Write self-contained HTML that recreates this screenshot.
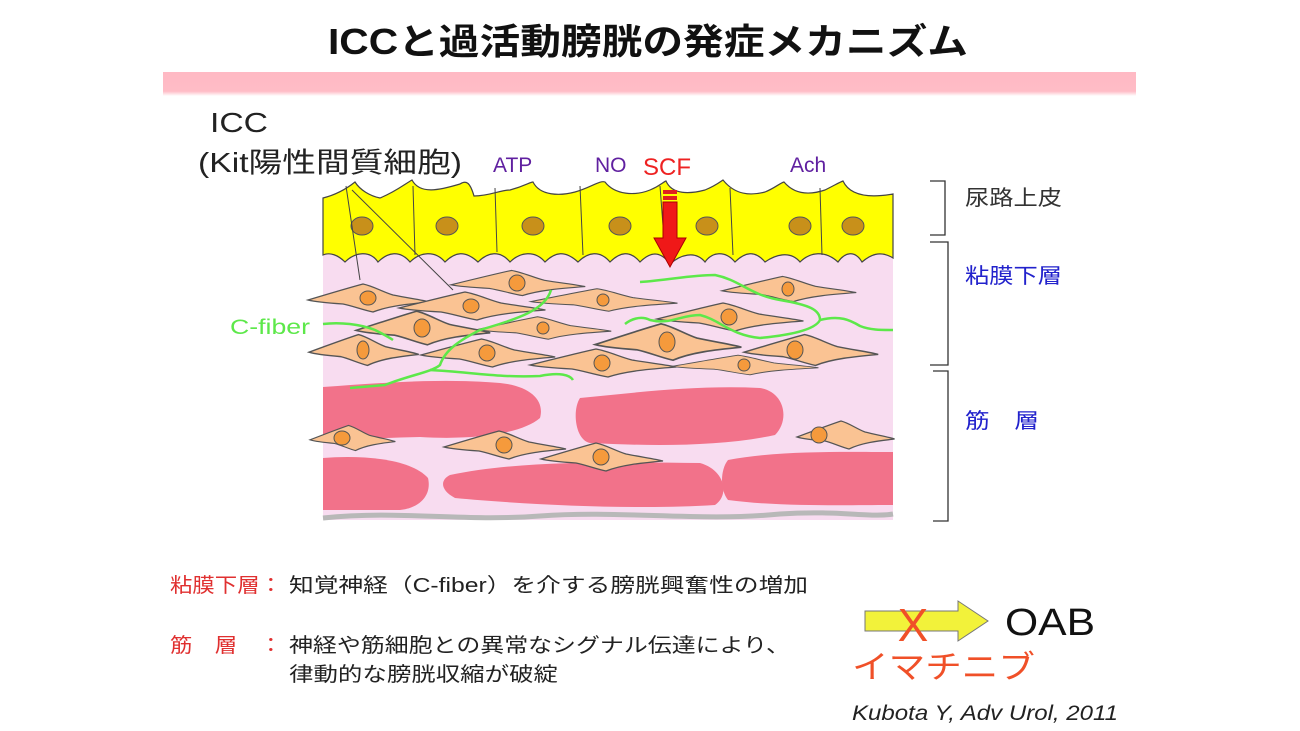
<!DOCTYPE html>
<html><head><meta charset="utf-8"><style>
body{margin:0;width:1300px;height:726px;background:#fff;overflow:hidden}
svg text{font-family:"Liberation Sans","Noto Sans CJK JP",sans-serif}
</style></head><body>
<svg width="1300" height="726" viewBox="0 0 1300 726">
<defs>
<linearGradient id="bar" x1="0" y1="0" x2="0" y2="1"><stop offset="0" stop-color="#ffb9c4"/><stop offset="0.8" stop-color="#ffbcc6"/><stop offset="1" stop-color="#fff"/></linearGradient>
<g id="cell"><path d="M-60,2 C-40,-4 -20,-10 -5,-14 C5,-12 15,-6 25,-3 C40,0 55,2 62,4 C40,6 20,8 5,14 C-5,12 -15,8 -25,6 C-40,5 -52,4 -60,2Z" fill="#fac393" stroke="#555" stroke-width="1.3"/></g>
</defs>
<text x="328" y="54" font-size="36" font-weight="bold" fill="#111" textLength="640" lengthAdjust="spacingAndGlyphs">ICCと過活動膀胱の発症メカニズム</text>
<rect x="163" y="72" width="973" height="24" fill="url(#bar)"/>
<text x="210" y="132" font-size="28" fill="#222" textLength="58" lengthAdjust="spacingAndGlyphs">ICC</text>
<text x="198" y="172" font-size="28" fill="#222" textLength="264" lengthAdjust="spacingAndGlyphs">(Kit陽性間質細胞)</text>
<text x="493" y="172" font-size="21" fill="#6020a0">ATP</text>
<text x="595" y="172" font-size="21" fill="#6020a0">NO</text>
<text x="643" y="175" font-size="24" fill="#ee2222">SCF</text>
<text x="790" y="172" font-size="21" fill="#6020a0">Ach</text>
<!-- tissue -->
<rect x="323" y="235" width="570" height="285" fill="#f8dcf0"/>
<!-- muscle -->
<g fill="#f2728a">
<path d="M323,387 C380,383 440,378 500,383 C530,386 545,400 540,418 C520,435 470,440 420,437 C380,438 340,440 323,438Z"/>
<path d="M580,398 C640,392 700,385 760,388 C785,392 790,420 775,435 C720,447 650,446 590,443 C575,440 572,410 580,398Z"/>
<path d="M323,458 C360,455 410,458 428,478 C432,495 420,508 400,510 L323,510Z"/>
<path d="M450,475 C520,460 620,462 700,463 C725,470 730,495 715,505 C640,510 530,505 455,498 C440,490 440,480 450,475Z"/>
<path d="M728,460 C780,450 850,452 893,452 L893,505 C850,505 780,507 728,500 C720,490 720,470 728,460Z"/>
</g>
<path d="M323,518 C400,510 460,522 540,516 C620,510 700,522 780,514 C840,510 870,518 893,514" stroke="#b8b8b8" stroke-width="5" fill="none"/>
<!-- epithelium -->
<path d="M323,198 C335,195 345,190 355,182 C360,190 370,196 380,198 C395,192 405,184 412,180 C420,195 440,190 460,184 C466,180 470,182 474,196 C490,196 500,190 510,190 C525,186 530,182 533,182 C540,196 560,196 575,192 C590,188 600,180 605,182 C615,195 635,196 650,190 C660,186 663,182 666,181 C672,195 690,194 705,190 C715,186 720,182 723,180 C735,195 750,196 765,192 C775,188 780,183 784,182 C795,195 810,195 825,190 C835,185 840,182 843,181 C850,196 870,198 893,194 L893,258 C880,250 870,255 862,262 C855,250 845,252 838,262 C825,250 810,252 800,262 C790,250 775,255 765,262 C755,250 745,252 735,262 C725,250 712,252 705,262 C695,250 680,255 670,264 C660,250 650,252 640,262 C630,250 620,252 610,262 C600,250 588,252 578,262 C565,250 555,252 545,262 C535,250 520,252 510,262 C500,250 488,252 478,262 C465,250 455,252 445,262 C435,250 420,252 410,262 C400,250 388,252 378,262 C370,250 355,252 345,262 C338,255 330,252 323,255Z" fill="#ffff00" stroke="#444" stroke-width="1.2"/>
<g stroke="#444" stroke-width="1" fill="none">
<path d="M413,186 L415,255"/><path d="M495,188 L497,252"/><path d="M580,186 L583,255"/><path d="M660,186 L665,252"/><path d="M730,188 L733,255"/><path d="M820,188 L822,255"/>
</g>
<g fill="#c8901a" stroke="#555" stroke-width="1">
<ellipse cx="362" cy="226" rx="11" ry="9"/><ellipse cx="447" cy="226" rx="11" ry="9"/><ellipse cx="533" cy="226" rx="11" ry="9"/><ellipse cx="620" cy="226" rx="11" ry="9"/><ellipse cx="707" cy="226" rx="11" ry="9"/><ellipse cx="800" cy="226" rx="11" ry="9"/><ellipse cx="853" cy="226" rx="11" ry="9" /></g>
<!-- cells -->
<g>
<use href="#cell" transform="translate(368,298)"/>
<use href="#cell" transform="translate(517,283) scale(1.1,0.9)"/>
<use href="#cell" transform="translate(471,306) scale(1.2,1)"/>
<use href="#cell" transform="translate(603,300) scale(1.2,0.8)"/>
<use href="#cell" transform="translate(788,289) scale(1.1,0.9)"/>
<use href="#cell" transform="translate(422,328) scale(1.1,1.2)"/>
<use href="#cell" transform="translate(543,328) scale(1.1,0.8)"/>
<use href="#cell" transform="translate(729,317) scale(1.2,1)"/>
<use href="#cell" transform="translate(363,350) scale(0.9,1.1)"/>
<use href="#cell" transform="translate(487,353) scale(1.1,1)"/>
<use href="#cell" transform="translate(667,342) scale(1.2,1.3)"/>
<use href="#cell" transform="translate(810,350) scale(1.1,1.1)"/>
<use href="#cell" transform="translate(602,363) scale(1.2,1)"/>
<use href="#cell" transform="translate(744,365) scale(1.2,0.7)"/>
<use href="#cell" transform="translate(352,438) scale(0.7,0.9)"/>
<use href="#cell" transform="translate(504,445) scale(1,1)"/>
<use href="#cell" transform="translate(601,457) scale(1,1)"/>
<use href="#cell" transform="translate(845,435) scale(0.8,1)"/>
</g>
<g fill="#f59a3c" stroke="#555" stroke-width="1">
<ellipse cx="368" cy="298" rx="8" ry="7"/><ellipse cx="517" cy="283" rx="8" ry="8"/><ellipse cx="471" cy="306" rx="8" ry="7"/><ellipse cx="603" cy="300" rx="6" ry="6"/><ellipse cx="788" cy="289" rx="6" ry="7"/><ellipse cx="422" cy="328" rx="8" ry="9"/><ellipse cx="543" cy="328" rx="6" ry="6"/><ellipse cx="729" cy="317" rx="8" ry="8"/><ellipse cx="363" cy="350" rx="6" ry="9"/><ellipse cx="487" cy="353" rx="8" ry="8"/><ellipse cx="667" cy="342" rx="8" ry="10"/><ellipse cx="795" cy="350" rx="8" ry="9"/><ellipse cx="602" cy="363" rx="8" ry="8"/><ellipse cx="744" cy="365" rx="6" ry="6"/><ellipse cx="342" cy="438" rx="8" ry="7"/><ellipse cx="504" cy="445" rx="8" ry="8"/><ellipse cx="601" cy="457" rx="8" ry="8"/><ellipse cx="819" cy="435" rx="8" ry="8"/>
</g>
<!-- green fibers -->
<g stroke="#5de84a" stroke-width="2.5" fill="none">
<path d="M323,324 C340,322 360,324 375,330 C385,335 390,338 393,340"/>
<path d="M551,290 C545,310 520,318 480,330 C460,340 445,350 440,365 C432,372 410,375 385,385 L350,388"/>
<path d="M430,370 C470,372 500,378 540,376 C560,372 570,375 573,380"/>
<path d="M640,282 C670,280 690,275 715,275 C740,280 750,295 780,300 C810,305 820,310 820,320 C815,330 790,335 760,338 C730,335 720,320 700,315 C680,315 670,325 650,320 C640,315 630,320 625,324"/>
<path d="M820,320 C840,315 850,320 860,326 C870,330 880,330 893,330"/>
</g>
<!-- ICC pointer lines -->
<g stroke="#444" stroke-width="1"><line x1="346" y1="186" x2="360" y2="280"/><line x1="352" y1="190" x2="453" y2="290"/></g>
<!-- SCF arrow -->
<rect x="663" y="190" width="14" height="4" fill="#e02020"/><rect x="663" y="196" width="14" height="4" fill="#e02020"/>
<path d="M663,202 L677,202 L677,238 L686,238 L670,267 L654,238 L663,238Z" fill="#f01818" stroke="#a00" stroke-width="1"/>
<!-- brackets -->
<g stroke="#333" stroke-width="1.3" fill="none">
<path d="M930,181 L945,181 L945,235 L930,235"/>
<path d="M930,242 L948,242 L948,365 L930,365"/>
<path d="M933,371 L948,371 L948,521 L933,521"/>
</g>
<text x="965" y="205" font-size="21" fill="#333" textLength="97" lengthAdjust="spacingAndGlyphs">尿路上皮</text>
<text x="965" y="283" font-size="21" fill="#2222cc" textLength="97" lengthAdjust="spacingAndGlyphs">粘膜下層</text>
<text x="965" y="428" font-size="21" fill="#2222cc" textLength="74" lengthAdjust="spacingAndGlyphs">筋　層</text>
<text x="230" y="334" font-size="21" fill="#5de84a" textLength="80" lengthAdjust="spacingAndGlyphs">C-fiber</text>
<!-- bottom text -->
<text x="170" y="592" font-size="20" fill="#e03030" textLength="112" lengthAdjust="spacingAndGlyphs">粘膜下層：</text>
<text x="289" y="592" font-size="20" fill="#222" textLength="519" lengthAdjust="spacingAndGlyphs">知覚神経（C-fiber）を介する膀胱興奮性の増加</text>
<text x="170" y="652" font-size="20" fill="#e03030" textLength="112" lengthAdjust="spacingAndGlyphs">筋　層　：</text>
<text x="289" y="652" font-size="20" fill="#222" textLength="501" lengthAdjust="spacingAndGlyphs">神経や筋細胞との異常なシグナル伝達により、</text>
<text x="289" y="681" font-size="20" fill="#222" textLength="269" lengthAdjust="spacingAndGlyphs">律動的な膀胱収縮が破綻</text>
<!-- OAB -->
<path d="M865,611 L958,611 L958,601 L988,621 L958,641 L958,631 L865,631Z" fill="#f2f23a" stroke="#777" stroke-width="1"/>
<text x="913" y="641" text-anchor="middle" font-size="46" fill="#f05028">X</text>
<text x="1005" y="635" font-size="38" fill="#111" textLength="90" lengthAdjust="spacingAndGlyphs">OAB</text>
<text x="852" y="678" font-size="32" fill="#f05028" textLength="183" lengthAdjust="spacingAndGlyphs">イマチニブ</text>
<text x="852" y="720" font-size="21" font-style="italic" fill="#222" textLength="266" lengthAdjust="spacingAndGlyphs">Kubota Y, Adv Urol, 2011</text>
</svg>
</body></html>
